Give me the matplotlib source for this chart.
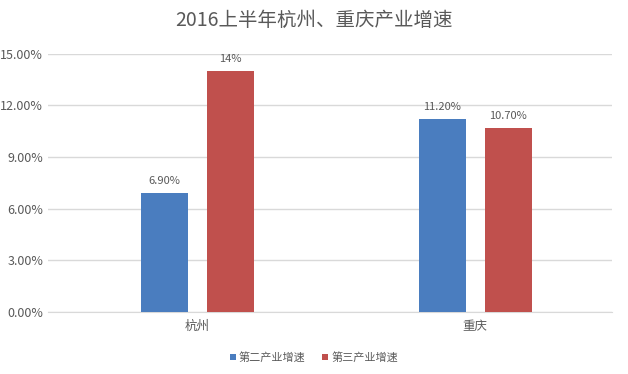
import matplotlib
matplotlib.use("Agg")
import matplotlib.pyplot as plt
import numpy as np
from matplotlib.ticker import FuncFormatter

plt.rcParams['font.family'] = ['Noto Sans CJK SC', 'DejaVu Sans']

categories = ["杭州", "重庆"]
series_names = ["第二产业增速", "第三产业增速"]
secondary = [6.90, 11.20]
tertiary = [14.0, 10.70]
labels_secondary = ["6.90%", "11.20%"]
labels_tertiary = ["14%", "10.70%"]
yticks = [0, 3, 6, 9, 12, 15]

fig = plt.figure(figsize=(6.28, 3.74), dpi=100)
ax = fig.add_axes([0.0764, 0.166, 0.8986, 0.69])

x = np.arange(len(categories))
w = 0.17
off = 0.119
blue = "#4a7dbf"
red = "#c0504d"
b1 = ax.bar(x - off, secondary, w, color=blue, label=series_names[0], zorder=3)
b2 = ax.bar(x + off, tertiary, w, color=red, label=series_names[1], zorder=3)

txtc = "#595959"
for rect, lab in zip(b1, labels_secondary):
    ax.annotate(lab, (rect.get_x() + rect.get_width() / 2, rect.get_height()),
                xytext=(0, 5), textcoords="offset points", ha="center", va="bottom",
                fontsize=8, color=txtc)
for rect, lab in zip(b2, labels_tertiary):
    ax.annotate(lab, (rect.get_x() + rect.get_width() / 2, rect.get_height()),
                xytext=(0, 5), textcoords="offset points", ha="center", va="bottom",
                fontsize=8, color=txtc)

ax.set_xlim(-0.539, 1.494)
ax.set_ylim(0, 15)
ax.set_yticks(yticks)
ax.yaxis.set_major_formatter(FuncFormatter(lambda v, p: f"{v:.2f}%"))
ax.set_xticks(x)
ax.set_xticklabels(categories)
ax.tick_params(axis='both', length=0, colors=txtc, labelsize=9)
ax.tick_params(axis='x', pad=6)
ax.grid(axis='y', color="#d9d9d9", linewidth=1, zorder=0)
for s in ["top", "right", "left"]:
    ax.spines[s].set_visible(False)
ax.spines["bottom"].set_color("#d9d9d9")

fig.suptitle("2016上半年杭州、重庆产业增速", y=0.975, fontsize=14, color="#595959")

leg = fig.legend(handles=[b1, b2], labels=series_names, loc="center", bbox_to_anchor=(0.5, 0.045),
                 ncol=2, frameon=False, fontsize=8, handlelength=0.5, handleheight=0.5,
                 handletextpad=0.3, columnspacing=1.5, labelcolor=txtc)

fig.savefig("out.png", dpi=100)
